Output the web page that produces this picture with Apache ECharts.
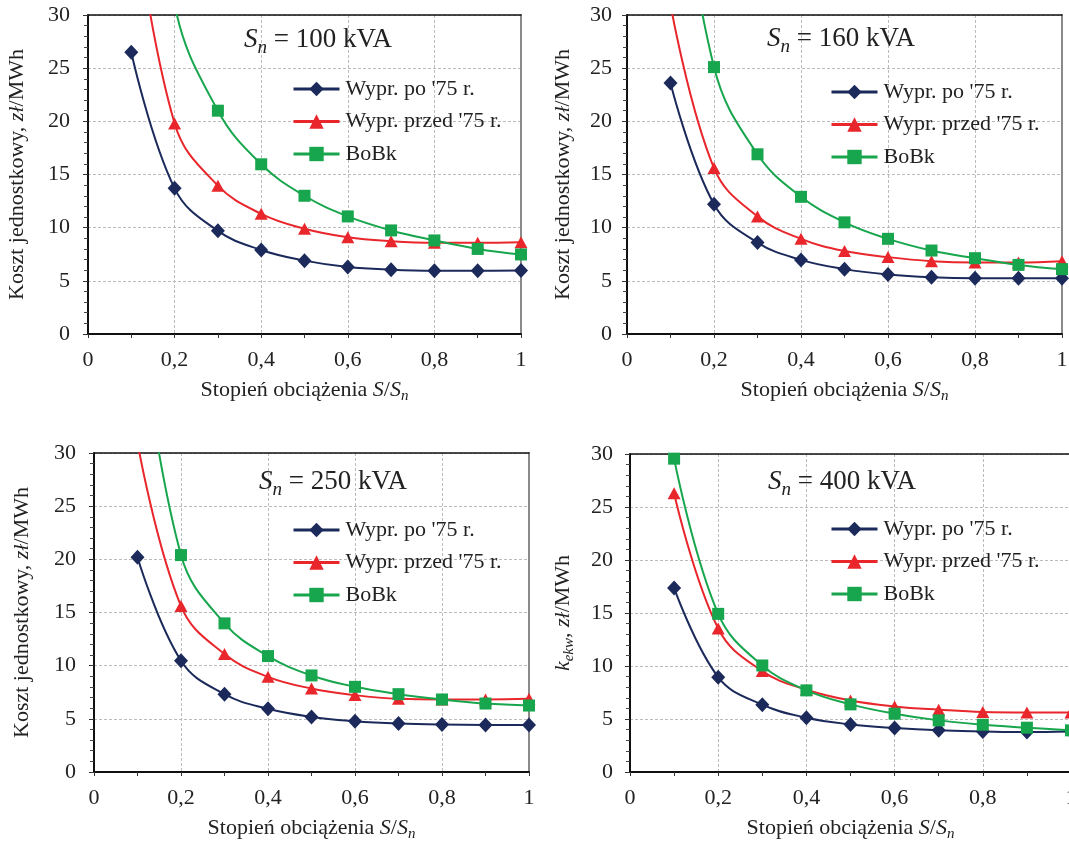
<!DOCTYPE html>
<html>
<head>
<meta charset="utf-8">
<script src="https://cdn.jsdelivr.net/npm/echarts@6/dist/echarts.min.js"></script>
<style>
html,body{margin:0;padding:0;background:#fff;}
#chart{width:1069px;height:843px;}
</style>
</head>
<body>
<div id="chart"></div>
<script>
// ---- data ----
const loadLevels = [0.1, 0.2, 0.3, 0.4, 0.5, 0.6, 0.7, 0.8, 0.9, 1.0];
const seriesNames = ["Wypr. po '75 r.", "Wypr. przed '75 r.", "BoBk"];
const panelTitles = ["100 kVA", "160 kVA", "250 kVA", "400 kVA"];
const xTickLabels = ["0", "0,2", "0,4", "0,6", "0,8", "1"];
const yTickLabels = ["0", "5", "10", "15", "20", "25", "30"];

// Sn = 100 kVA
const po75_100     = [26.5, 13.7, 9.7, 7.9, 6.9, 6.3, 6.05, 5.95, 5.95, 5.97];
const przed75_100  = [42.0, 19.8, 13.95, 11.3, 9.9, 9.1, 8.73, 8.57, 8.58, 8.64];
const bobk_100     = [62.0, 31.0, 21.0, 15.96, 13.0, 11.06, 9.74, 8.8, 8.0, 7.48];
// Sn = 160 kVA
const po75_160     = [23.6, 12.2, 8.6, 6.97, 6.1, 5.6, 5.34, 5.25, 5.25, 5.25];
const przed75_160  = [31.0, 15.6, 11.06, 8.95, 7.8, 7.23, 6.85, 6.72, 6.72, 6.85];
const bobk_160     = [50.0, 25.1, 16.9, 12.9, 10.5, 8.95, 7.85, 7.13, 6.5, 6.1];
// Sn = 250 kVA
const po75_250     = [20.2, 10.46, 7.32, 5.94, 5.18, 4.78, 4.56, 4.46, 4.43, 4.43];
const przed75_250  = [31.0, 15.6, 11.09, 8.95, 7.85, 7.23, 6.88, 6.82, 6.82, 6.88];
const bobk_250     = [44.0, 20.4, 13.98, 10.9, 9.08, 8.01, 7.32, 6.82, 6.44, 6.25];
// Sn = 400 kVA
const po75_400     = [17.37, 8.95, 6.35, 5.12, 4.49, 4.15, 3.93, 3.83, 3.77, 3.83];
const przed75_400  = [26.3, 13.54, 9.52, 7.76, 6.75, 6.19, 5.88, 5.66, 5.62, 5.62];
const bobk_400     = [29.56, 14.92, 10.05, 7.7, 6.38, 5.5, 4.87, 4.46, 4.18, 3.93];

const panelData = [
  [po75_100, przed75_100, bobk_100],
  [po75_160, przed75_160, bobk_160],
  [po75_250, przed75_250, bobk_250],
  [po75_400, przed75_400, bobk_400]
];

// ---- styling / layout ----
const FONT = '"Liberation Serif", "DejaVu Serif", serif';
const colors = ['#1b2a5a', '#e8262b', '#17a64d'];
const symbols = ['diamond', 'triangle', 'rect'];
const symbolSizes = [[14, 15], [13, 12], [12, 12]];

const grids = [
  {left: 88,  top: 15,  width: 433, height: 319},
  {left: 627, top: 15,  width: 435, height: 319},
  {left: 94,  top: 453, width: 435, height: 319},
  {left: 630, top: 454, width: 441, height: 318}
];
const yLabelMargin = [18, 15, 18, 17];
const yNameGap = [57, 50, 58, 53];
const titlePos = [
  {left: 244, top: 23}, {left: 767, top: 22}, {left: 259, top: 465}, {left: 768, top: 465}
];
const legendPos = [
  {left: 292, top: 78}, {left: 830, top: 81}, {left: 292, top: 519}, {left: 830, top: 518}
];

const richBase = {
  r: {fontFamily: FONT, fontSize: 22, color: '#222', fontWeight: 'normal', lineHeight: 28},
  i: {fontFamily: FONT, fontSize: 22, color: '#222', fontWeight: 'normal', fontStyle: 'italic', lineHeight: 28},
  s: {fontFamily: FONT, fontSize: 15, color: '#222', fontWeight: 'normal', fontStyle: 'italic', lineHeight: 14, verticalAlign: 'bottom'}
};
const richTitle = {
  r: {fontFamily: FONT, fontSize: 27, color: '#222', fontWeight: 'normal', lineHeight: 34},
  i: {fontFamily: FONT, fontSize: 27, color: '#222', fontWeight: 'normal', fontStyle: 'italic', lineHeight: 34},
  s: {fontFamily: FONT, fontSize: 19, color: '#222', fontWeight: 'normal', fontStyle: 'italic', lineHeight: 18, verticalAlign: 'bottom'}
};

function xLabel(v) {
  const idx = Math.round(v * 5);
  return (Math.abs(v * 5 - idx) < 1e-6 && idx >= 0 && idx < xTickLabels.length) ? xTickLabels[idx] : '';
}
function yLabel(v) {
  const idx = Math.round(v / 5);
  return yTickLabels[idx] !== undefined ? yTickLabels[idx] : '';
}

const option = {
  animation: false,
  backgroundColor: '#fff',
  grid: grids.map(g => Object.assign({containLabel: false, outerBoundsMode: 'none'}, g)),
  title: [],
  legend: [],
  xAxis: [],
  yAxis: [],
  series: []
};

for (let p = 0; p < 4; p++) {
  option.title.push({
    text: '{i|S}{s|n}{r| = ' + panelTitles[p] + '}',
    left: titlePos[p].left, top: titlePos[p].top, padding: 0,
    textStyle: {fontWeight: 'normal', rich: richTitle}
  });
  option.legend.push({
    data: seriesNames,
    orient: 'vertical',
    left: legendPos[p].left, top: legendPos[p].top,
    padding: 0,
    itemWidth: 46, itemHeight: 18, itemGap: 10.5,
    lineStyle: {width: 3},
    textStyle: {fontFamily: FONT, fontSize: 22, color: '#222', padding: [0, 0, 0, 1]},
    selectedMode: false
  });
  // bottom x axis
  option.xAxis.push({
    type: 'value', gridIndex: p, position: 'bottom',
    min: 0, max: 1, interval: 0.2,
    axisLine: {show: true, onZero: false, lineStyle: {color: '#111', width: 2}},
    axisTick: {show: true, length: 4, lineStyle: {color: '#333', width: 1}},
    minorTick: {show: true, splitNumber: 2, length: 4, lineStyle: {color: '#333', width: 1}},
    axisLabel: {formatter: xLabel, margin: 15, fontFamily: FONT, fontSize: 22, color: '#222'},
    splitLine: {show: true, lineStyle: {color: '#bbb', width: 1, type: [3, 2]}},
    name: '{r|Stopień obciążenia }{i|S}{r|/}{i|S}{s|n}',
    nameLocation: 'middle', nameGap: 42,
    nameTextStyle: {rich: richBase}
  });
  // top frame
  option.xAxis.push({
    type: 'value', gridIndex: p, position: 'top', min: 0, max: 1,
    axisLine: {show: true, onZero: false, lineStyle: {color: '#111', width: 1.5}},
    axisTick: {show: false}, axisLabel: {show: false}, splitLine: {show: false}
  });
  // left y axis
  const yName = p === 3
    ? '{i|k}{s|ekw}{r|, }{i|zł}{r|/MWh}'
    : '{r|Koszt jednostkowy, }{i|zł}{r|/MWh}';
  option.yAxis.push({
    type: 'value', gridIndex: p, position: 'left',
    min: 0, max: 30, interval: 5,
    axisLine: {show: true, onZero: false, lineStyle: {color: '#111', width: 2}},
    axisTick: {show: true, length: 5, lineStyle: {color: '#333', width: 1}},
    minorTick: {show: true, splitNumber: 5, length: 4, lineStyle: {color: '#444', width: 1}},
    axisLabel: {formatter: yLabel, margin: yLabelMargin[p], fontFamily: FONT, fontSize: 22, color: '#222'},
    splitLine: {show: true, lineStyle: {color: '#bbb', width: 1, type: [3, 2]}},
    name: yName, nameLocation: 'middle', nameRotate: 90, nameGap: yNameGap[p],
    nameTextStyle: {rich: richBase}
  });
  // right frame
  option.yAxis.push({
    type: 'value', gridIndex: p, position: 'right', min: 0, max: 30,
    axisLine: {show: true, onZero: false, lineStyle: {color: '#8a8a8a', width: 2}},
    axisTick: {show: false}, axisLabel: {show: false}, splitLine: {show: false}
  });

  for (let s = 0; s < 3; s++) {
    option.series.push({
      name: seriesNames[s],
      type: 'line',
      xAxisIndex: p * 2, yAxisIndex: p * 2,
      data: loadLevels.map((x, i) => [x, panelData[p][s][i]]),
      smooth: 0.4,
      clip: true,
      symbol: symbols[s],
      symbolSize: symbolSizes[s],
      showAllSymbol: true,
      itemStyle: {color: colors[s]},
      lineStyle: {color: colors[s], width: 2},
      z: 3 + s
    });
  }
}

const chart = echarts.init(document.getElementById('chart'), null, {renderer: 'canvas'});
chart.setOption(option);
</script>
</body>
</html>
